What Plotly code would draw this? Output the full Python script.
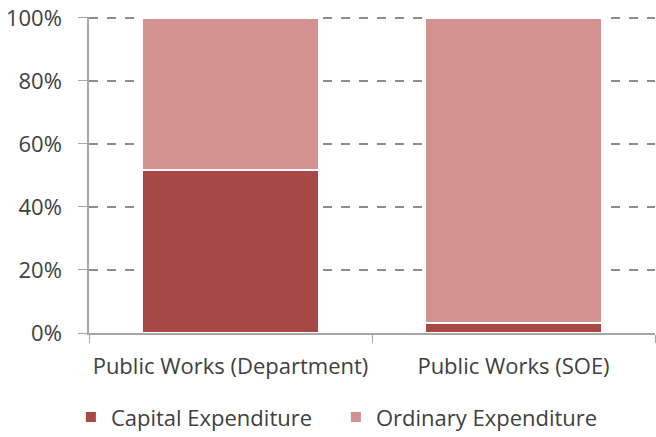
import plotly.graph_objects as go

categories = ["Public Works (Department)", "Public Works (SOE)"]
capital = [51.6, 3.2]
ordinary = [48.4, 96.8]
y_ticks = [0, 20, 40, 60, 80, 100]
y_tick_labels = ["0%", "20%", "40%", "60%", "80%", "100%"]

fig = go.Figure()
fig.add_trace(go.Bar(x=categories, y=capital, name="Capital Expenditure",
                     marker=dict(color="#A84846", line=dict(color="white", width=2))))
fig.add_trace(go.Bar(x=categories, y=ordinary, name="Ordinary Expenditure",
                     marker=dict(color="#D39190", line=dict(color="white", width=2))))

# dashed gridline at the top (100%) which plotly omits at the range edge
fig.add_shape(type="line", xref="paper", x0=0, x1=1, yref="y", y0=100, y1=100,
              line=dict(color="#8c8c8c", width=2, dash="dash"), layer="below")

fig.update_layout(
    barmode="stack",
    bargap=0.375,
    width=656, height=437,
    margin=dict(l=89, r=1, t=17, b=104, autoexpand=False),
    plot_bgcolor="white", paper_bgcolor="white",
    font=dict(family="Open Sans, Noto Sans, sans-serif", color="#404040"),
    showlegend=True,
    legend=dict(orientation="h", x=-0.032, y=-0.2, xanchor="left", yanchor="top",
                font=dict(size=22), entrywidth=220, entrywidthmode="pixels",
                traceorder="normal", itemclick=False),
)
fig.update_xaxes(
    automargin=False, tickangle=0,
    showline=True, linecolor="#a6a6a6", linewidth=1.5,
    ticks="outside", tickson="boundaries", ticklen=8, tickcolor="#a6a6a6",
    tickfont=dict(size=22), ticklabelstandoff=13, showgrid=False, range=[-0.5, 1.5],
)
fig.update_yaxes(
    automargin=False,
    range=[0, 100.3], tickvals=y_ticks, ticktext=y_tick_labels,
    showline=True, linecolor="#a6a6a6", linewidth=1.5,
    ticks="outside", ticklen=9, tickcolor="#a6a6a6",
    tickfont=dict(size=22), ticklabelstandoff=12,
    showgrid=True, gridcolor="#8c8c8c", gridwidth=2, griddash="dash",
    zeroline=False,
)

fig.write_html("out.html", config={"displayModeBar": False},
               post_script="document.body.style.margin='0';")
